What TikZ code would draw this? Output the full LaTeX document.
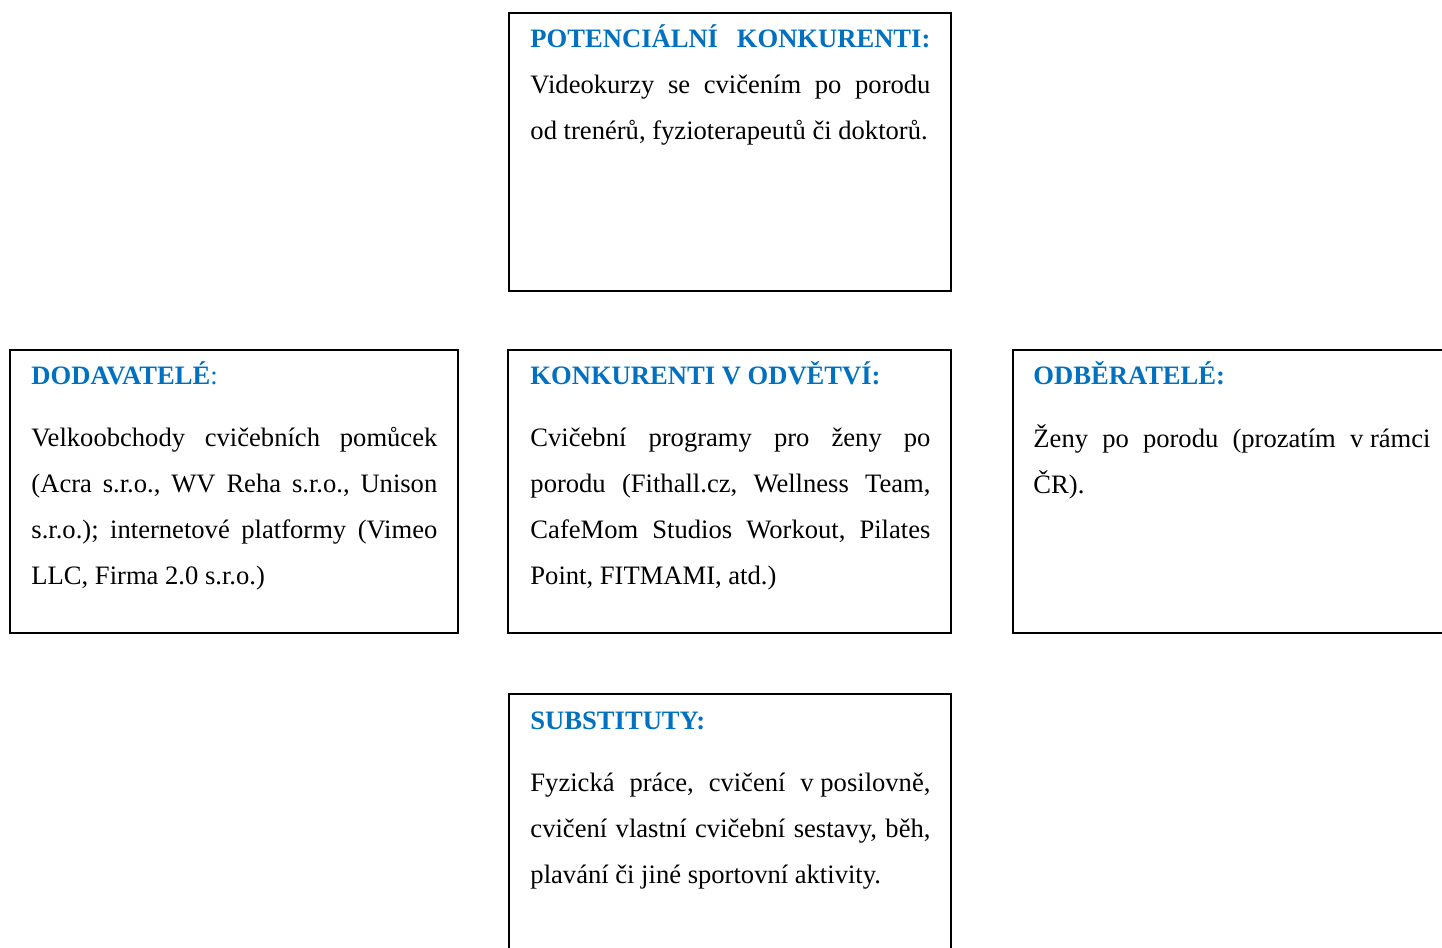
\documentclass[tikz,border=0pt]{standalone}
\usepackage{fontspec}
\setmainfont{Liberation Serif}
\usetikzlibrary{calc}
\definecolor{headblue}{RGB}{0,112,192}
\tolerance=10000
\hyphenpenalty=10000
\frenchspacing

\begin{document}
\begin{tikzpicture}[x=0.44pt, y=-0.44pt,
    every node/.style={font=\fontsize{11.7}{20.24}\selectfont, inner sep=0pt},
    box/.style={draw, line width=0.9pt, anchor=north west, minimum width=194.9pt, minimum height=124.5pt},
    head/.style={anchor=base west, text=headblue, font=\fontsize{11.7}{20.24}\selectfont\bfseries},
    body/.style={anchor=base west, align=justify, text width=176pt}]
    \useasboundingbox (0,0) rectangle (1442,948);
    \clip (0,0) rectangle (1442,948);

    % Potencialni konkurenti (top)
    \node[box, minimum width=194.5pt, minimum height=122.3pt] (potbox) at (508,12) {};
    \node[head, align=justify, text width=176pt] (pothead) at ($(potbox.north west)+(22,36)$) {POTENCIÁLNÍ\hfill KONKURENTI:};
    \node[body] (pottext) at ($(potbox.north west)+(22,82)$)
        {Videokurzy se cvičením po porodu\linebreak od trenérů, fyzioterapeutů či doktorů.};

    % Dodavatele (left)
    \node[box, minimum width=197.2pt] (supbox) at (9,349) {};
    \node[head] (suphead) at ($(supbox.north west)+(22,36)$) {DODAVATELÉ\textmd{:}};
    \node[body, text width=178.6pt] (suptext) at ($(supbox.north west)+(22,98)$)
        {Velkoobchody cvičebních pomůcek\linebreak (Acra s.r.o., WV Reha s.r.o., Unison\linebreak s.r.o.); internetové platformy (Vimeo\linebreak LLC, Firma 2.0 s.r.o.)};

    % Konkurenti v odvetvi (middle)
    \node[box] (rivbox) at (507,349) {};
    \node[head] (rivhead) at ($(rivbox.north west)+(23,36)$) {KONKURENTI V ODVĚTVÍ:};
    \node[body] (rivtext) at ($(rivbox.north west)+(23,98)$)
        {Cvičební programy pro ženy po\linebreak porodu (Fithall.cz, Wellness Team,\linebreak CafeMom Studios Workout, Pilates\linebreak Point, FITMAMI, atd.)};

    % Odberatele (right)
    \node[box, minimum width=197.2pt] (buybox) at (1012,349) {};
    \node[head] (buyhead) at ($(buybox.north west)+(21,36)$) {ODBĚRATELÉ:};
    \node[body, text width=174.7pt] (buytext) at ($(buybox.north west)+(21,99)$)
        {Ženy po porodu (prozatím v\nobreak\hspace{0.25em}rámci\linebreak ČR).};

    % Substituty (bottom)
    \node[box, minimum width=194.5pt] (subbox) at (508,693) {};
    \node[head] (subhead) at ($(subbox.north west)+(22,36)$) {SUBSTITUTY:};
    \node[body] (subtext) at ($(subbox.north west)+(22,98)$)
        {Fyzická práce, cvičení v\nobreak\hspace{0.25em}posilovně,\linebreak cvičení vlastní cvičební sestavy, běh,\linebreak plavání či jiné sportovní aktivity.};
\end{tikzpicture}
\end{document}
